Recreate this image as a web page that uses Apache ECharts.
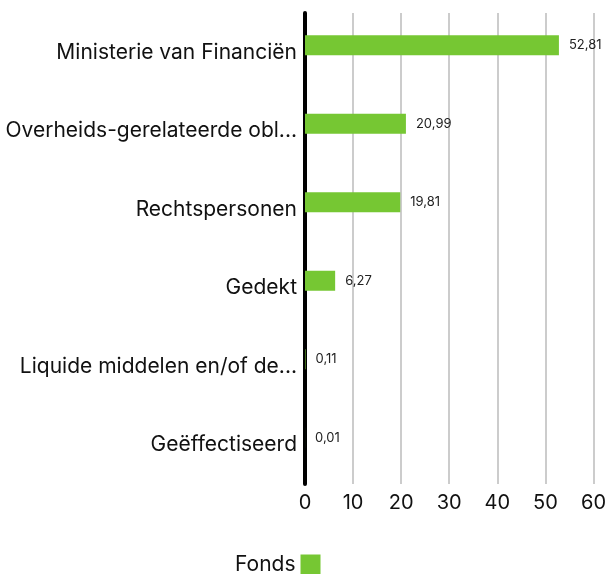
<!DOCTYPE html>
<html lang="nl">
<head>
    <meta charset="UTF-8">
    <title>Fonds</title>
    <script src="https://cdn.jsdelivr.net/npm/echarts@6/dist/echarts.min.js"></script>
    <style>
        html, body { margin: 0; padding: 0; background: #fff; }
        #chart { width: 609px; height: 574px; }
    </style>
</head>
<body>
<div id="chart"></div>
<script type="text/javascript">
    // categorieën en waarden (van boven naar beneden)
    var categories = [
        'Ministerie van Financiën',
        'Overheids-gerelateerde obl...',
        'Rechtspersonen',
        'Gedekt',
        'Liquide middelen en/of de...',
        'Geëffectiseerd'
    ];
    var fondsValues = [52.81, 20.99, 19.81, 6.27, 0.11, 0.01];
    var xTicks = [0, 10, 20, 30, 40, 50, 60];

    var green = '#76c733';
    var font = 'Inter, "Open Sans", sans-serif';

    var chart = echarts.init(document.getElementById('chart'));

    var option = {
        animation: false,
        grid: { left: 305, right: 12, top: 13, bottom: 90, containLabel: false },
        legend: {
            data: ['Fonds'],
            left: 235,
            top: 554,
            padding: 0,
            align: 'right',
            icon: 'rect',
            itemWidth: 20,
            itemHeight: 20,
            textStyle: { color: '#111', fontSize: 21, fontFamily: font, padding: [6, 0, 0, 0] }
        },
        xAxis: {
            type: 'value',
            min: xTicks[0],
            max: xTicks[xTicks.length - 1],
            interval: 10,
            axisLine: { show: false },
            axisTick: { show: false },
            axisLabel: { color: '#111', fontSize: 20, fontFamily: font, margin: 9 },
            splitLine: { show: true, lineStyle: { color: '#cccccc', width: 2 } }
        },
        yAxis: {
            type: 'category',
            inverse: true,
            data: categories,
            axisLine: { show: true, lineStyle: { color: '#000', width: 4 } },
            axisTick: { show: false },
            axisLabel: { color: '#111', fontSize: 21, fontFamily: font, margin: 8, padding: [10, 0, 0, 0] }
        },
        series: [
            {
                name: 'Fonds',
                type: 'bar',
                data: fondsValues,
                barWidth: 20,
                barGap: '-30%',
                itemStyle: { color: green },
                label: {
                    show: true,
                    position: 'right',
                    distance: 10,
                    color: '#222',
                    fontSize: 13,
                    fontFamily: font,
                    formatter: function (p) {
                        return p.value.toFixed(2).replace('.', ',');
                    }
                }
            },
            {
                // lege tweede reeks: schuift de balken iets omhoog zoals in het origineel
                name: 'Fonds',
                type: 'bar',
                data: [],
                barWidth: 20,
                itemStyle: { color: green }
            }
        ]
    };

    chart.setOption(option);
</script>
</body>
</html>
